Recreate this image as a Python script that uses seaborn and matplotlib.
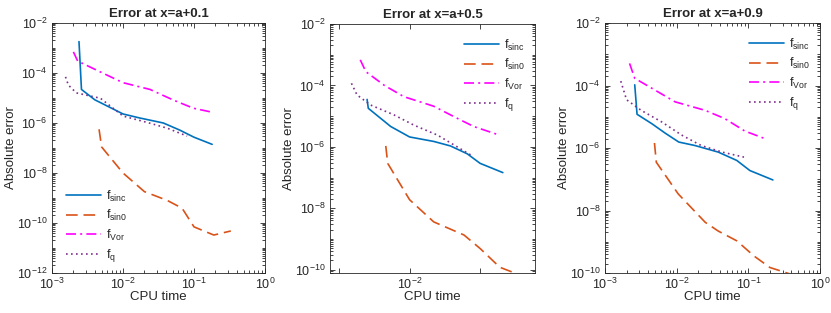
import matplotlib
matplotlib.use("Agg")
import matplotlib.pyplot as plt
import matplotlib.ticker as mticker
import numpy as np
import seaborn as sns

# ---- data (CPU time, absolute error) ----
# panel 1: x = a + 0.1
p1_sinc_t = [0.0024, 0.0026, 0.0040, 0.010, 0.017, 0.037, 0.063, 0.10, 0.18]
p1_sinc_e = [1.8e-3, 2.2e-5, 8.5e-6, 2.3e-6, 1.6e-6, 1.0e-6, 5.2e-7, 2.7e-7, 1.4e-7]
p1_sin0_t = [0.0046, 0.0050, 0.010, 0.020, 0.042, 0.068, 0.10, 0.19, 0.33]
p1_sin0_e = [5.6e-7, 1.1e-7, 1.0e-8, 1.8e-9, 8.0e-10, 3.9e-10, 7.0e-11, 3.3e-11, 4.8e-11]
p1_vor_t = [0.0020, 0.0023, 0.0048, 0.010, 0.024, 0.051, 0.098, 0.18]
p1_vor_e = [7.0e-4, 3.0e-4, 1.1e-4, 4.1e-5, 2.2e-5, 8.3e-6, 3.9e-6, 2.7e-6]
p1_q_t = [0.00155, 0.0017, 0.0022, 0.0048, 0.010, 0.024, 0.042, 0.080]
p1_q_e = [7.0e-5, 3.3e-5, 1.6e-5, 9.8e-6, 1.9e-6, 9.8e-7, 6.2e-7, 3.0e-7]

# panel 2: x = a + 0.5
p2_sinc_t = [0.0025, 0.0026, 0.0054, 0.010, 0.022, 0.038, 0.066, 0.10, 0.21]
p2_sinc_e = [3.5e-5, 1.8e-5, 4.6e-6, 2.1e-6, 1.5e-6, 1.07e-6, 5.9e-7, 2.9e-7, 1.45e-7]
p2_sin0_t = [0.0046, 0.0049, 0.010, 0.022, 0.059, 0.10, 0.19, 0.35]
p2_sin0_e = [1.07e-6, 2.9e-7, 1.9e-8, 3.6e-9, 1.35e-9, 4.9e-10, 1.2e-10, 7.0e-11]
p2_vor_t = [0.0020, 0.0024, 0.0044, 0.0083, 0.022, 0.043, 0.081, 0.17]
p2_vor_e = [6.8e-4, 2.8e-4, 1.0e-4, 4.3e-5, 2.1e-5, 9.5e-6, 4.6e-6, 2.6e-6]
p2_q_t = [0.0015, 0.0018, 0.0028, 0.0060, 0.0115, 0.025, 0.074]
p2_q_e = [1.17e-4, 4.9e-5, 2.3e-5, 1.1e-5, 5.1e-6, 2.4e-6, 5.4e-7]

# panel 3: x = a + 0.9
p3_sinc_t = [0.0026, 0.0028, 0.0045, 0.0069, 0.0107, 0.018, 0.038, 0.069, 0.105, 0.22]
p3_sinc_e = [1.05e-4, 1.2e-5, 6.0e-6, 3.0e-6, 1.55e-6, 1.2e-6, 7.4e-7, 4.0e-7, 1.9e-7, 9.5e-8]
p3_sin0_t = [0.0049, 0.0052, 0.0105, 0.025, 0.038, 0.069, 0.12, 0.20, 0.40]
p3_sin0_e = [1.45e-6, 3.5e-7, 3.4e-8, 4.2e-9, 2.2e-9, 1.07e-9, 3.5e-10, 1.5e-10, 9.0e-11]
p3_vor_t = [0.0022, 0.0026, 0.0050, 0.0095, 0.025, 0.047, 0.089, 0.18]
p3_vor_e = [5.1e-4, 1.7e-4, 7.1e-5, 3.0e-5, 1.6e-5, 8.7e-6, 3.5e-6, 1.9e-6]
p3_q_t = [0.00166, 0.0020, 0.0032, 0.0062, 0.0117, 0.022, 0.043, 0.087]
p3_q_e = [1.38e-4, 3.5e-5, 1.6e-5, 6.8e-6, 2.6e-6, 1.2e-6, 7.4e-7, 5.1e-7]

titles = ["Error at x=a+0.1", "Error at x=a+0.5", "Error at x=a+0.9"]
labels = ["f$_{sinc}$", "f$_{sin0}$", "f$_{Vor}$", "f$_{q}$"]
yticks = [[1e-12, 1e-10, 1e-8, 1e-6, 1e-4, 1e-2],
          [1e-10, 1e-8, 1e-6, 1e-4, 1e-2],
          [1e-10, 1e-8, 1e-6, 1e-4, 1e-2]]
xticks = [[1e-3, 1e-2, 1e-1, 1e0], [1e-3, 1e-2, 1e-1], [1e-3, 1e-2, 1e-1, 1e0]]

sns.set_theme(style="ticks")
plt.rcParams["font.family"] = ["Liberation Sans", "DejaVu Sans"]
plt.rcParams["mathtext.default"] = "regular"

colors = ["#0072BD", "#D95319", "#FF00FF", "#7E2F8E"]
styles = ["-", (0, (7, 3.5)), (0, (6, 2.5, 1.2, 2.5)), (0, (1, 2))]

panels = [
    [(p1_sinc_t, p1_sinc_e), (p1_sin0_t, p1_sin0_e), (p1_vor_t, p1_vor_e), (p1_q_t, p1_q_e)],
    [(p2_sinc_t, p2_sinc_e), (p2_sin0_t, p2_sin0_e), (p2_vor_t, p2_vor_e), (p2_q_t, p2_q_e)],
    [(p3_sinc_t, p3_sinc_e), (p3_sin0_t, p3_sin0_e), (p3_vor_t, p3_vor_e), (p3_q_t, p3_q_e)],
]


def pow_label(v, pos):
    return r"$10^{%d}$" % int(round(np.log10(v)))


W, H = 831, 313
fig = plt.figure(figsize=(W / 100, H / 100), dpi=100)
boxes = [(52, 265, 23, 273), (330, 535, 24, 273), (605, 820, 23, 273)]
xlims = [(1e-3, 1), (7.45e-4, 0.60), (1e-3, 1)]
ylims = [(1e-12, 1e-2), (7.8e-11, 1e-2), (1e-10, 1e-2)]
leg_loc = ["lower left", "upper right", "upper right"]
leg_anchor = [(0.02, -0.005), (1.0, 0.985), (1.0, 0.985)]

for i, series in enumerate(panels):
    l, r, t, b = boxes[i]
    ax = fig.add_axes([l / W, (H - b) / H, (r - l) / W, (b - t) / H])
    for (xs, ys), lab, c, ls in zip(series, labels, colors, styles):
        sns.lineplot(x=xs, y=ys, ax=ax, color=c, linestyle=ls, linewidth=1.2,
                     label=lab, sort=False, estimator=None)
    ax.set_xscale("log")
    ax.set_yscale("log")
    ax.set_xlim(*xlims[i])
    ax.set_ylim(*ylims[i])
    ax.yaxis.set_major_locator(mticker.FixedLocator(yticks[i]))
    ax.yaxis.set_major_formatter(mticker.FuncFormatter(pow_label))
    ax.yaxis.set_minor_locator(mticker.LogLocator(base=10, subs=(1.0,) + tuple(range(2, 10)), numticks=30))
    ax.yaxis.set_minor_formatter(mticker.NullFormatter())
    ax.xaxis.set_major_locator(mticker.FixedLocator(xticks[i]))
    if i == 1:
        # middle panel only labels 10^-2 and has no minor ticks
        ax.xaxis.set_major_formatter(mticker.FuncFormatter(
            lambda v, p: r"$10^{-2}$" if abs(v - 1e-2) < 1e-4 else ""))
        ax.xaxis.set_minor_locator(mticker.NullLocator())
    else:
        ax.xaxis.set_major_formatter(mticker.FuncFormatter(pow_label))
        ax.xaxis.set_minor_locator(mticker.LogLocator(base=10, subs=tuple(range(2, 10)), numticks=30))
    ax.xaxis.set_minor_formatter(mticker.NullFormatter())
    ax.tick_params(which="both", direction="in", top=True, right=True,
                   colors="#262626", labelsize=9, width=0.6)
    ax.tick_params(which="major", length=3.5)
    ax.tick_params(which="minor", length=2)
    ax.tick_params(axis="x", pad=3)
    for s in ax.spines.values():
        s.set_color("#262626")
        s.set_linewidth(0.6)
    ax.set_title(titles[i], fontsize=9.5, fontweight="bold", pad=4)
    ax.set_xlabel("CPU time", fontsize=9.5, color="#262626", labelpad=-1)
    ax.set_ylabel("Absolute error", fontsize=9.5, color="#262626", labelpad=0)
    ax.legend(loc=leg_loc[i], bbox_to_anchor=leg_anchor[i], frameon=False,
              fontsize=9, handlelength=2.8, labelspacing=0.35, handletextpad=0.4,
              borderaxespad=0.4)

fig.savefig("out.png", dpi=100)
